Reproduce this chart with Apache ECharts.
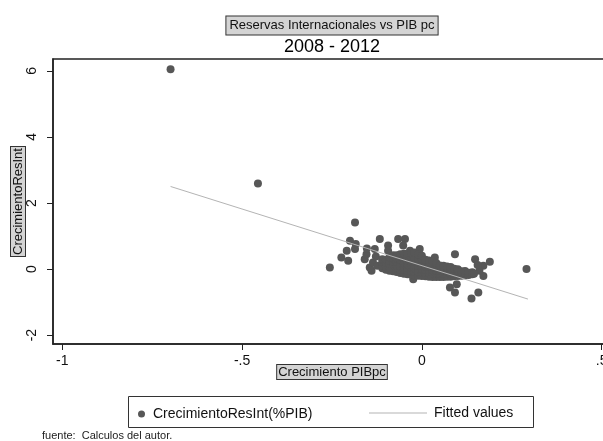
<!DOCTYPE html>
<html>
<head>
<meta charset="utf-8">
<script src="https://cdn.jsdelivr.net/npm/echarts@6/dist/echarts.min.js"></script>
<style>html,body{margin:0;padding:0;background:#fff}#c{width:603px;height:441px}</style>
</head>
<body>
<div id="c"></div>
<script>
// ---- data ----
const titleMain = 'Reservas Internacionales vs PIB pc';
const titleSub = '2008 - 2012';
const xName = 'Crecimiento PIBpc';
const yName = 'CrecimientoResInt';
const seriesScatterName = 'CrecimientoResInt(%PIB)';
const seriesFitName = 'Fitted values';
const noteText = 'fuente:  Calculos del autor.';

const xTicks = [-1, -0.5, 0, 0.5];
const xTickLabels = ['-1', '-.5', '0', '.5'];
const yTicks = [-2, 0, 2, 4, 6];
const yTickLabels = ['-2', '0', '2', '4', '6'];

// isolated points
const outlierPoints = [[-0.699, 6.05], [-0.456, 2.59], [0.291, 0.0]];
// points left of / above the main cloud
const leftPoints = [
  [-0.256, 0.05], [-0.224, 0.35], [-0.205, 0.25], [-0.209, 0.55], [-0.200, 0.86],
  [-0.184, 0.76], [-0.186, 0.61], [-0.186, 1.41],
  [-0.159, 0.30], [-0.154, 0.45], [-0.145, 0.05], [-0.140, -0.05], [-0.131, 0.61],
  [-0.153, 0.62], [-0.136, 0.20], [-0.128, 0.38], [-0.124, 0.10], [-0.117, 0.91],
  [-0.094, 0.71], [-0.094, 0.55], [-0.066, 0.91], [-0.047, 0.91], [-0.052, 0.71],
  [-0.033, 0.55], [-0.006, 0.61], [0.036, 0.35]
];
// points right of / below the main cloud
const rightPoints = [
  [0.092, 0.45], [0.148, 0.30], [0.171, 0.10], [0.189, 0.22], [0.171, -0.21],
  [0.160, -0.05], [0.155, 0.12], [-0.024, -0.31], [0.078, -0.56], [0.092, -0.71],
  [0.138, -0.89], [0.157, -0.71], [0.097, -0.46]
];
// dense main cloud
const cloudPoints = [
  [-0.11, 0.02], [-0.11, 0.12], [-0.11, 0.22], [-0.11, 0.30],
  [-0.10, -0.02], [-0.10, 0.08], [-0.10, 0.18], [-0.10, 0.28],
  [-0.09, -0.05], [-0.09, 0.05], [-0.09, 0.15], [-0.09, 0.25], [-0.09, 0.35],
  [-0.08, -0.07], [-0.08, 0.03], [-0.08, 0.13], [-0.08, 0.23], [-0.08, 0.33], [-0.08, 0.42],
  [-0.07, -0.09], [-0.07, 0.01], [-0.07, 0.11], [-0.07, 0.21], [-0.07, 0.31], [-0.07, 0.42],
  [-0.06, -0.12], [-0.06, -0.02], [-0.06, 0.08], [-0.06, 0.18], [-0.06, 0.28], [-0.06, 0.38], [-0.06, 0.45],
  [-0.05, -0.14], [-0.05, -0.04], [-0.05, 0.06], [-0.05, 0.16], [-0.05, 0.26], [-0.05, 0.36], [-0.05, 0.46],
  [-0.04, -0.16], [-0.04, -0.06], [-0.04, 0.04], [-0.04, 0.14], [-0.04, 0.24], [-0.04, 0.34], [-0.04, 0.46],
  [-0.03, -0.17], [-0.03, -0.07], [-0.03, 0.03], [-0.03, 0.13], [-0.03, 0.23], [-0.03, 0.33], [-0.03, 0.48],
  [-0.02, -0.19], [-0.02, -0.09], [-0.02, 0.01], [-0.02, 0.11], [-0.02, 0.21], [-0.02, 0.31], [-0.02, 0.50],
  [-0.01, -0.20], [-0.01, -0.10], [-0.01, 0.00], [-0.01, 0.10], [-0.01, 0.20], [-0.01, 0.30], [-0.01, 0.44],
  [0.00, -0.21], [0.00, -0.11], [0.00, -0.01], [0.00, 0.09], [0.00, 0.19], [0.00, 0.30], [0.00, 0.40],
  [0.01, -0.22], [0.01, -0.12], [0.01, -0.02], [0.01, 0.08], [0.01, 0.18], [0.01, 0.28],
  [0.02, -0.23], [0.02, -0.13], [0.02, -0.03], [0.02, 0.07], [0.02, 0.17], [0.02, 0.26],
  [0.03, -0.24], [0.03, -0.14], [0.03, -0.04], [0.03, 0.06], [0.03, 0.15], [0.03, 0.22],
  [0.04, -0.24], [0.04, -0.15], [0.04, -0.05], [0.04, 0.04], [0.04, 0.12], [0.04, 0.18],
  [0.05, -0.24], [0.05, -0.15], [0.05, -0.06], [0.05, 0.03], [0.05, 0.11],
  [0.06, -0.24], [0.06, -0.15], [0.06, -0.07], [0.06, 0.02], [0.06, 0.10],
  [0.07, -0.23], [0.07, -0.15], [0.07, -0.07], [0.07, 0.01], [0.07, 0.08],
  [0.08, -0.23], [0.08, -0.15], [0.08, -0.08], [0.08, 0.00], [0.08, 0.06],
  [0.09, -0.22], [0.09, -0.14], [0.09, -0.07], [0.09, 0.01],
  [0.10, -0.21], [0.10, -0.14], [0.10, -0.07], [0.10, -0.01],
  [0.11, -0.20], [0.11, -0.13], [0.11, -0.07],
  [0.12, -0.19], [0.12, -0.12], [0.12, -0.06],
  [0.13, -0.18], [0.13, -0.11],
  [0.14, -0.16], [0.14, -0.10],
  [0.145, -0.14]
];
// fitted line end points
const fitX = [-0.699, 0.295];
const fitY = [2.50, -0.91];

// ---- chart ----
const FONT = '"Liberation Sans", Arial, sans-serif';
const scatterData = [].concat(outlierPoints, leftPoints, rightPoints, cloudPoints);
const fitData = fitX.map((x, i) => [x, fitY[i]]);

const chart = echarts.init(document.getElementById('c'), null, { renderer: 'canvas' });
chart.setOption({
  animation: false,
  backgroundColor: '#ffffff',
  textStyle: { fontFamily: FONT },
  grid: {
    left: 53, top: 59, right: -8, bottom: 97,
    containLabel: false, outerBoundsMode: 'none',
    show: true, borderColor: '#222', borderWidth: 1.5, backgroundColor: '#fff'
  },
  xAxis: {
    type: 'value', min: -1.026, max: 0.526,
    name: xName, nameLocation: 'middle', nameGap: 21, nameMoveOverlap: false,
    nameTextStyle: {
      fontSize: 13, color: '#111', fontFamily: FONT,
      backgroundColor: '#d4d4d4', borderColor: '#333', borderWidth: 1, padding: [1, 1, 0, 1]
    },
    axisLine: { show: true, onZero: false, lineStyle: { color: '#222', width: 1.5 } },
    axisTick: { show: true, customValues: xTicks, length: 6, lineStyle: { color: '#222' } },
    axisLabel: {
      customValues: xTicks, fontSize: 14, color: '#111', margin: 10,
      formatter: v => { const i = xTicks.indexOf(v); return i >= 0 ? xTickLabels[i] : ''; }
    },
    splitLine: { show: false }
  },
  yAxis: {
    type: 'value', min: -2.27, max: 6.36,
    name: yName, nameLocation: 'middle', nameRotate: 90, nameGap: 28, nameMoveOverlap: false,
    nameTextStyle: {
      fontSize: 13, color: '#111', fontFamily: FONT,
      backgroundColor: '#d4d4d4', borderColor: '#333', borderWidth: 1, padding: [1, 1, 0, 1]
    },
    axisLine: { show: true, onZero: false, lineStyle: { color: '#222', width: 1.5 } },
    axisTick: { show: true, customValues: yTicks, length: 6, lineStyle: { color: '#222' } },
    axisLabel: {
      customValues: yTicks, rotate: 90, fontSize: 14, color: '#111', margin: 14,
      formatter: v => { const i = yTicks.indexOf(v); return i >= 0 ? yTickLabels[i] : ''; }
    },
    splitLine: { show: false }
  },
  legend: [
    {
      left: 133, top: 402, itemWidth: 7, itemHeight: 7, icon: 'circle',
      data: [seriesScatterName],
      textStyle: { fontSize: 14, color: '#111', fontFamily: FONT, padding: [0, 0, 0, 3] }
    },
    {
      left: 364, top: 401, itemWidth: 58, itemHeight: 1, icon: 'rect',
      data: [seriesFitName],
      textStyle: { fontSize: 14, color: '#111', fontFamily: FONT, padding: [0, 0, 0, 2] }
    }
  ],
  graphic: [
    {
      type: 'text', x: 332, y: 25.5,
      style: {
        text: titleMain, fontSize: 13, fontFamily: FONT, fill: '#111',
        align: 'center', verticalAlign: 'middle',
        backgroundColor: '#d4d4d4', borderColor: '#333', borderWidth: 1, padding: [3, 3, 2, 3]
      }
    },
    {
      type: 'text', x: 332, y: 47,
      style: { text: titleSub, fontSize: 18, fontFamily: FONT, fill: '#000', align: 'center', verticalAlign: 'middle' }
    },
    {
      type: 'rect', z: 0,
      shape: { x: 128.5, y: 396.5, width: 405, height: 31 },
      style: { fill: 'none', stroke: '#333', lineWidth: 1 }
    },
    {
      type: 'text', x: 42, y: 436,
      style: { text: noteText, fontSize: 11, fontFamily: FONT, fill: '#222', verticalAlign: 'middle' }
    }
  ],
  series: [
    {
      name: seriesScatterName, type: 'scatter', data: scatterData,
      symbol: 'circle', symbolSize: 8,
      itemStyle: { color: '#575757', opacity: 1 }, z: 2
    },
    {
      name: seriesFitName, type: 'line', data: fitData,
      symbol: 'none', showSymbol: false,
      lineStyle: { color: '#b4b4b4', width: 1 }, itemStyle: { color: '#b4b4b4' }, z: 3
    }
  ]
});
</script>
</body>
</html>
